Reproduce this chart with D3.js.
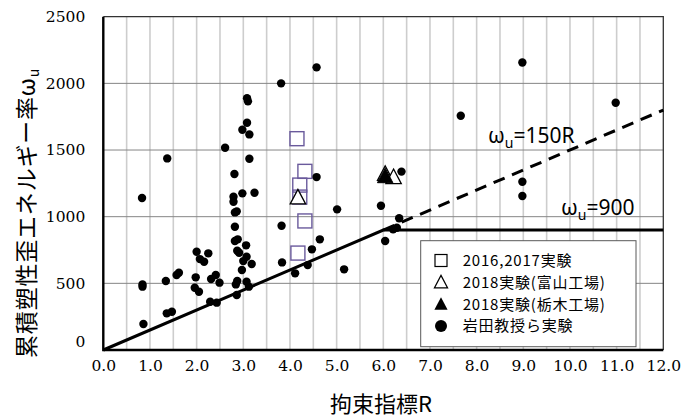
<!DOCTYPE html>
<html>
<head>
<meta charset="utf-8">
<script src="https://cdn.jsdelivr.net/npm/d3@7"></script>
<style>
  body { margin: 0; background: #fff; }
  svg { display: block; }
</style>
</head>
<body>
<svg id="chart" width="694" height="419"></svg>
<script>
// ---- data -------------------------------------------------------------
const xTickValues = [0, 1, 2, 3, 4, 5, 6, 7, 8, 9, 10, 11, 12];
const yTickValues = [0, 500, 1000, 1500, 2000, 2500];

// 2016,2017実験 (open squares)
const tests2016 = [[4.15, 1585], [4.32, 1340], [4.21, 1237], [4.21, 1147], [4.32, 968], [4.17, 727]];
// 2018実験(富山工場) (open triangles)
const testsToyama = [[6.04, 1316], [4.17, 1140], [6.22, 1292]];
// 2018実験(栃木工場) (filled triangles)
const testsTochigi = [[6.04, 1299]];
// 岩田教授ら実験 (filled circles)
const testsIwata = [
  [0.83, 1140], [0.84, 492], [0.84, 475], [0.86, 195], [1.34, 517], [1.37, 1437],
  [1.36, 275], [1.47, 287], [1.57, 562], [1.62, 580], [1.96, 467], [1.98, 545],
  [2.0, 737], [2.05, 437], [2.07, 682], [2.16, 662], [2.25, 725], [2.31, 532],
  [2.41, 562], [2.49, 505], [2.29, 362], [2.43, 355], [2.61, 1517], [2.79, 1150],
  [2.79, 1112], [2.81, 1320], [2.82, 1032], [2.86, 1040], [2.82, 925], [2.82, 818],
  [2.88, 830], [2.87, 745], [2.91, 730], [2.87, 517], [2.84, 492], [2.86, 412],
  [2.97, 600], [2.98, 1175], [2.98, 1652], [3.0, 667], [3.06, 785], [3.07, 700],
  [3.07, 512], [3.12, 475], [3.18, 645], [3.08, 1888], [3.10, 1865], [3.08, 1705],
  [3.13, 1617], [3.13, 1435], [3.24, 1180], [3.81, 2000], [3.82, 932], [3.83, 657],
  [4.11, 575], [4.38, 637], [4.47, 755], [4.57, 2120], [4.57, 1297], [4.64, 830],
  [5.01, 1055], [5.16, 605], [5.95, 1082], [6.04, 818], [6.21, 905], [6.29, 917],
  [6.34, 988], [6.39, 1338], [7.66, 1757], [8.98, 2157], [8.98, 1262], [8.98, 1155],
  [10.98, 1855]
];

// design lines: ωu = min(150R, 900) (solid) and ωu = 150R beyond the cap (dashed)
const boundSolid = [[0, 0], [6, 900], [12, 900]];
const boundDashed = [[6, 900], [12, 1800]];

const legendLabels = ["2016,2017実験", "2018実験(富山工場)", "2018実験(栃木工場)", "岩田教授ら実験"];

// ---- layout -----------------------------------------------------------
const svg = d3.select("#chart");
const plot = { left: 103.3, right: 663.3, top: 16.7, bottom: 350 };

const x = d3.scaleLinear().domain([0, 12]).range([plot.left, plot.right]);
const y = d3.scaleLinear().domain([0, 2500]).range([plot.bottom, plot.top]);

const serif = "'DejaVu Serif', serif";
const cjk = "'Noto Sans CJK JP', sans-serif";
const sans = "'Noto Sans', 'Open Sans', sans-serif";

// ---- grid -------------------------------------------------------------
const grid = svg.append("g");
grid.selectAll("line.v")
  .data(d3.range(0.5, 12, 0.5))
  .join("line")
  .attr("x1", d => x(d)).attr("x2", d => x(d))
  .attr("y1", plot.top).attr("y2", plot.bottom)
  .attr("stroke", "#cdcdcd").attr("stroke-width", 1.6);

grid.selectAll("line.h")
  .data(yTickValues.filter(v => v > 0 && v < 2500))
  .join("line")
  .attr("x1", plot.left).attr("x2", plot.right)
  .attr("y1", d => y(d)).attr("y2", d => y(d))
  .attr("stroke", "#858585").attr("stroke-width", 1);

// plot frame (top / right)
svg.append("path")
  .attr("d", `M${plot.left},${plot.top}H${plot.right}V${plot.bottom}`)
  .attr("fill", "none").attr("stroke", "#333").attr("stroke-width", 1.3);

// ---- axes -------------------------------------------------------------
const xAxis = svg.append("g")
  .attr("transform", `translate(0,${plot.bottom})`)
  .call(d3.axisBottom(x).tickValues(xTickValues).tickFormat(d3.format(".1f")).tickSize(0).tickPadding(10));
const yAxis = svg.append("g")
  .attr("transform", `translate(${plot.left},0)`)
  .call(d3.axisLeft(y).tickValues(yTickValues).tickFormat(d3.format("d")).tickSize(0).tickPadding(18));

[xAxis, yAxis].forEach(g => {
  g.select(".domain").remove();
  g.selectAll("text").attr("font-family", serif).attr("font-size", 15.5).attr("fill", "#000");
});
// lift the zero label clear of the x axis line
yAxis.selectAll(".tick text").filter(d => d === 0).attr("dy", "-0.2em");

// ---- design lines -----------------------------------------------------
const line = d3.line().x(d => x(d[0])).y(d => y(d[1]));
svg.append("path").attr("d", line(boundDashed))
  .attr("fill", "none").attr("stroke", "#000").attr("stroke-width", 3)
  .attr("stroke-dasharray", "12,8");
svg.append("path").attr("d", line(boundSolid))
  .attr("fill", "none").attr("stroke", "#000").attr("stroke-width", 3);

// spines
svg.append("path")
  .attr("d", `M${plot.left},${plot.top}V${plot.bottom}H${plot.right}`)
  .attr("fill", "none").attr("stroke", "#000").attr("stroke-width", 2.4);

// ---- markers ----------------------------------------------------------
const triPath = (s) => `M0,${-s * 0.62}L${s * 0.55},${s * 0.42}L${-s * 0.55},${s * 0.42}Z`;

const marks = svg.append("g");
marks.selectAll("rect.sq")
  .data(tests2016)
  .join("rect")
  .attr("x", d => x(d[0]) - 7).attr("y", d => y(d[1]) - 7)
  .attr("width", 14).attr("height", 14)
  .attr("fill", "none").attr("stroke", "#6a5a9c").attr("stroke-width", 1.4);

marks.selectAll("path.toyama")
  .data(testsToyama)
  .join("path")
  .attr("transform", d => `translate(${x(d[0])},${y(d[1])})`)
  .attr("d", triPath(14))
  .attr("fill", "#fff").attr("stroke", "#000").attr("stroke-width", 1.3);

marks.selectAll("path.tochigi")
  .data(testsTochigi)
  .join("path")
  .attr("transform", d => `translate(${x(d[0])},${y(d[1])})`)
  .attr("d", triPath(14))
  .attr("fill", "#000").attr("stroke", "#000").attr("stroke-width", 1);

marks.selectAll("circle.iwata")
  .data(testsIwata)
  .join("circle")
  .attr("cx", d => x(d[0])).attr("cy", d => y(d[1]))
  .attr("r", 4.2).attr("fill", "#000");

// ---- annotations ------------------------------------------------------
function omegaLabel(px, py, rest) {
  const t = svg.append("text")
    .attr("x", px).attr("y", py)
    .attr("font-family", sans).attr("font-size", 21).attr("fill", "#000");
  t.append("tspan").text("ω");
  t.append("tspan").attr("font-size", 14).attr("dy", 5).text("u");
  t.append("tspan").attr("dy", -5).text(rest);
}
omegaLabel(488, 143, "=150R");
omegaLabel(561, 215, "=900");

// ---- legend -----------------------------------------------------------
const lg = svg.append("g");
lg.append("rect")
  .attr("x", 420.7).attr("y", 240.7).attr("width", 215.3).attr("height", 106)
  .attr("fill", "#fff").attr("stroke", "#595959").attr("stroke-width", 1);

const legendRow = d3.scaleLinear().domain([0, 3]).range([260.5, 326]);
const symX = 441;
lg.append("rect").attr("x", symX - 6).attr("y", legendRow(0) - 6).attr("width", 12).attr("height", 12)
  .attr("fill", "none").attr("stroke", "#000").attr("stroke-width", 1.2);
lg.append("path").attr("transform", `translate(${symX},${legendRow(1) + 0.5})`).attr("d", triPath(12))
  .attr("fill", "#fff").attr("stroke", "#000").attr("stroke-width", 1.2);
lg.append("path").attr("transform", `translate(${symX},${legendRow(2) + 0.5})`).attr("d", triPath(12))
  .attr("fill", "#000");
lg.append("circle").attr("cx", symX).attr("cy", legendRow(3)).attr("r", 6).attr("fill", "#000");

lg.selectAll("text.lab")
  .data(legendLabels)
  .join("text")
  .attr("x", 462.7).attr("y", (d, i) => legendRow(i))
  .attr("dy", "0.36em")
  .attr("font-family", cjk).attr("font-size", 15).attr("letter-spacing", 0.8).attr("fill", "#000")
  .text(d => d);

// ---- axis titles ------------------------------------------------------
svg.append("text")
  .attr("x", 381).attr("y", 412)
  .attr("text-anchor", "middle")
  .attr("font-family", cjk).attr("font-size", 22).attr("fill", "#000")
  .text("拘束指標R");

const yt = svg.append("text")
  .attr("transform", "translate(35,213) rotate(-90)")
  .attr("text-anchor", "middle")
  .attr("font-family", cjk).attr("font-size", 23).attr("letter-spacing", 0.8).attr("fill", "#000");
yt.append("tspan").text("累積塑性歪エネルギー率ω");
yt.append("tspan").attr("font-size", 14).attr("dy", 4).text("u");
</script>
</body>
</html>
